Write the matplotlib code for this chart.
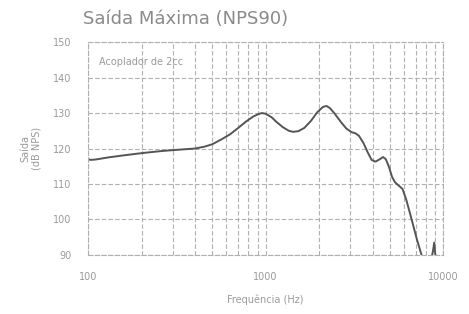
"""
    Saída Máxima (NPS90) - curva de resposta
"""

import numpy as np
import matplotlib.pyplot as plt

freq = [100, 103, 110, 130, 160, 200, 260, 330, 400, 450, 500, 560, 630, 700,
        770, 850, 900, 950, 1000, 1080, 1150, 1250, 1350, 1430, 1530, 1650,
        1800, 1950, 2100, 2200, 2300, 2450, 2650, 2850, 3050, 3200, 3350,
        3550, 3750, 3950, 4150, 4400, 4580, 4750, 4950, 5150, 5350, 5600,
        5900, 6200, 6600, 7100, 7600, 8000, 8500, 8750, 8900, 9050]
level = [117.0, 116.8, 116.9, 117.5, 118.1, 118.7, 119.3, 119.7, 120.0, 120.5,
         121.2, 122.5, 124.0, 125.8, 127.5, 129.0, 129.6, 130.0, 129.8, 128.8,
         127.5, 126.0, 125.0, 124.7, 124.9, 125.8, 127.8, 130.2, 131.7, 132.0,
         131.4, 129.8, 127.5, 125.6, 124.6, 124.3, 123.6, 121.6, 119.0, 116.8,
         116.3, 117.0, 117.6, 117.0, 114.8, 112.0, 110.5, 109.6, 108.6, 105.5,
         100.5, 94.5, 89.5, 88.0, 88.0, 91.0, 93.5, 89.5]

xticks = [100, 1000, 10000]
yticks = [90, 100, 110, 120, 130, 140, 150]

text_color = "#9a9a9a"
grid_color = "#b0b0b0"

fig = plt.figure(figsize=(4.69, 3.14), dpi=100)
ax = fig.add_axes([0.188, 0.188, 0.757, 0.678])

ax.semilogx(freq, level, '-', color="#555555", lw=1.4)

ax.set_xlim(100, 10000)
ax.set_ylim(90, 150)
ax.set_xticks(xticks)
ax.set_xticklabels([str(t) for t in xticks])
ax.set_yticks(yticks)
ax.tick_params(axis="both", which="both", length=0, colors=text_color,
               labelsize=7, pad=12)
ax.grid(True, which="major", color=grid_color, ls=(0, (4, 2)), lw=0.8)
ax.grid(True, which="minor", axis="x", color=grid_color, ls=(0, (4, 2)), lw=0.8)
ax.xaxis.set_minor_formatter(plt.NullFormatter())
for s in ax.spines.values():
    s.set_color(grid_color)
    s.set_linestyle((0, (4, 2)))

ax.text(0.03, 0.93, "Acoplador de 2cc", transform=ax.transAxes,
        color=text_color, fontsize=7, va="top")
fig.text(0.177, 0.94, "Saída Máxima (NPS90)", color="#8a8a8a", fontsize=13,
         va="center")
ax.set_ylabel("Saída\n(dB NPS)", color=text_color, fontsize=7, labelpad=8)
ax.set_xlabel("Frequência (Hz)", color=text_color, fontsize=7, labelpad=9)

plt.savefig("out.png", dpi=100)
